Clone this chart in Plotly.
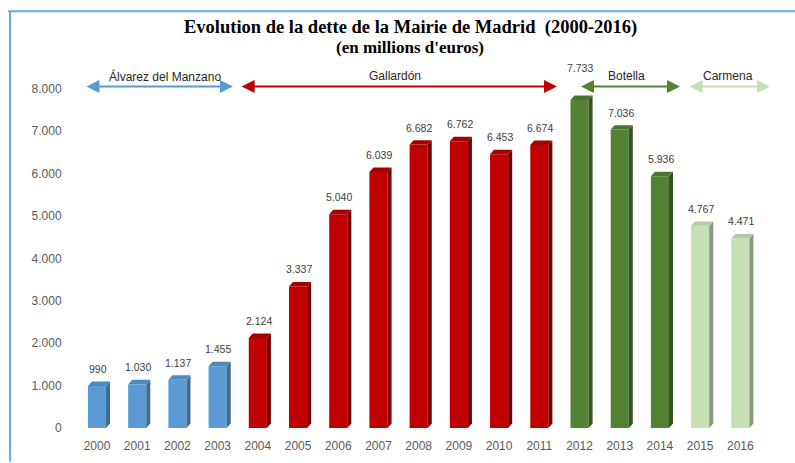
import plotly.graph_objects as go

# debt of the Madrid city hall, millions of euros
years = list(range(2000, 2017))
debt = [990, 1030, 1137, 1455, 2124, 3337, 5040, 6039, 6682, 6762, 6453, 6674,
        7733, 7036, 5936, 4767, 4471]

mayors = ["Álvarez del Manzano", "Gallardón", "Botella", "Carmena"]
mayor_first = [2000, 2004, 2012, 2015]
mayor_last = [2003, 2011, 2014, 2016]

# colours per mayor: front, top face, side face
front_col = ["#5B9BD5", "#C00000", "#548235", "#C5E0B4"]
top_col = ["#4E89C0", "#A30000", "#4A7430", "#B3CBA3"]
side_col = ["#3D6C97", "#780000", "#35521F", "#8A9A7F"]

# arrow padding around each mayor's years (x units)
arrow_pad = [(-0.3, 0.38), (-0.44, 0.44), (0.0, 0.5), (-0.3, 0.74)]
label_x = [1.69, 7.41, 13.18, 15.7]

W = 0.45      # bar width
D = 0.10      # 3d depth in x
DY = 105      # 3d depth in y

def mayor_of(year):
    for k in range(len(mayors)):
        if mayor_first[k] <= year <= mayor_last[k]:
            return k
    return 0

idx = [y - 2000 for y in years]
groups = [mayor_of(y) for y in years]

fig = go.Figure()

fig.add_trace(go.Bar(
    x=idx, y=debt, width=W,
    marker=dict(color=[front_col[g] for g in groups], line=dict(width=0)),
    hoverinfo="x+y",
))

# fake 3d: side and top faces
for i, v, g in zip(idx, debt, groups):
    xl, xr = i - W / 2, i + W / 2
    fig.add_trace(go.Scatter(
        x=[xr, xr + D, xr + D, xr, xr], y=[0, DY, v + DY, v, 0],
        mode="lines", fill="toself", fillcolor=side_col[g],
        line=dict(width=0, color=side_col[g]), hoverinfo="skip",
    ))
    fig.add_trace(go.Scatter(
        x=[xl, xl + D, xr + D, xr, xl], y=[v, v + DY, v + DY, v, v],
        mode="lines", fill="toself", fillcolor=top_col[g],
        line=dict(width=0, color=top_col[g]), hoverinfo="skip",
    ))

annotations = []
for i, v, y in zip(idx, debt, years):
    annotations.append(dict(
        x=i + 0.02, y=v, xref="x", yref="y", text=f"{v:,}".replace(",", "."),
        showarrow=False, yanchor="middle", yshift=32 if y == 2012 else 17,
        font=dict(family="Liberation Sans", size=10.5, color="#404040"),
    ))

for k, name in enumerate(mayors):
    x0 = mayor_first[k] - 2000 + arrow_pad[k][0]
    x1 = mayor_last[k] - 2000 + arrow_pad[k][1]
    annotations.append(dict(
        x=x1, y=8050, ax=x0, ay=8050, xref="x", yref="y", axref="x", ayref="y",
        text="", showarrow=True, arrowhead=2, arrowside="end+start",
        arrowsize=1.3, arrowwidth=2, arrowcolor=front_col[k],
        standoff=0, startstandoff=0,
    ))
    annotations.append(dict(
        x=label_x[k], y=8290, xref="x", yref="y", text=name, showarrow=False,
        xanchor="center", yanchor="middle",
        font=dict(family="Liberation Sans", size=12, color="#262626"),
    ))

annotations.append(dict(
    x=0.472, y=1.074, xref="paper", yref="paper", showarrow=False,
    xanchor="center", yanchor="middle",
    text="<b>Evolution de la dette de la Mairie de Madrid&nbsp;&nbsp;(2000-2016)</b>",
    font=dict(family="Liberation Serif", size=18.5, color="black"),
))
annotations.append(dict(
    x=0.472, y=1.019, xref="paper", yref="paper", showarrow=False,
    xanchor="center", yanchor="middle",
    text="<b>(en millions d'euros)</b>",
    font=dict(family="Liberation Serif", size=17, color="black"),
))

frame = "#6FA6DC"
shapes = [
    dict(type="line", xref="paper", yref="paper", x0=-0.0944, x1=1.02,
         y0=1.117, y1=1.117, line=dict(color=frame, width=2)),
    dict(type="line", xref="paper", yref="paper", x0=-0.0915, x1=-0.0915,
         y0=1.117, y1=-0.09, line=dict(color=frame, width=2)),
]

fig.update_layout(
    width=795, height=463,
    margin=dict(l=75, r=10, t=55, b=32),
    paper_bgcolor="white", plot_bgcolor="white",
    showlegend=False, separators=",.",
    annotations=annotations, shapes=shapes,
    xaxis=dict(
        range=[-0.547, 17.11], tickmode="array", tickvals=idx,
        ticktext=[str(y) for y in years], showgrid=False, zeroline=False,
        showline=False, ticks="outside", ticklen=7, tickcolor="rgba(0,0,0,0)",
        tickfont=dict(family="Liberation Sans", size=12, color="#595959"),
    ),
    yaxis=dict(
        range=[0, 8795], tickvals=list(range(0, 9000, 1000)),
        tickformat=",d", showgrid=False, zeroline=False, showline=False,
        ticks="outside", ticklen=10, tickcolor="rgba(0,0,0,0)",
        tickfont=dict(family="Liberation Sans", size=12, color="#595959"),
    ),
)

fig.write_html("out.html", config={"displayModeBar": False},
               post_script="document.body.style.margin = '0';")
